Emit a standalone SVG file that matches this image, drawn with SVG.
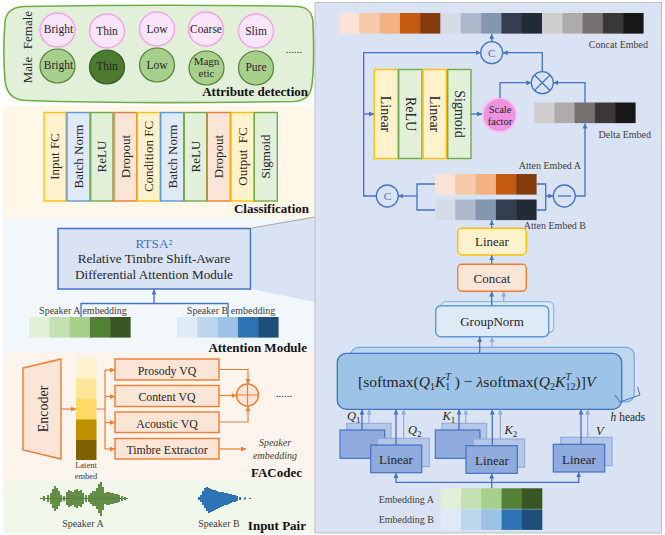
<svg xmlns="http://www.w3.org/2000/svg" width="665" height="535" viewBox="0 0 665 535">
<style>
text{font-family:"Liberation Serif","Times New Roman",serif;fill:#262626}
.t{text-anchor:middle}
.b{font-weight:bold;font-size:13px;fill:#111}
.s10{font-size:10px;fill:#404040}
.s13{font-size:13px}
.s14{font-size:14px}
.vq{font-size:11.800px}
.cl{font-size:11.500px}
.pink{fill:#fbe5fa;stroke:#f0a6e8;stroke-width:1.5}
.grn{fill:#a8d08d;stroke:#538135;stroke-width:1.2}
.y{fill:#fff2cc;stroke:#ffc000;stroke-width:1.4}
.g{fill:#e2efd9;stroke:#70ad47;stroke-width:1.4}
.o{fill:#fbe5d6;stroke:#ed7d31;stroke-width:1.4}
.bl{fill:#deeaf6;stroke:#5b9bd5;stroke-width:1.4}
.ln{fill:none;stroke:#4472c4;stroke-width:1.3}
.lt{fill:none;stroke:#8faadc;stroke-width:1.2}
.or{fill:none;stroke:#ed7d31;stroke-width:1.2}
.ab{marker-end:url(#ah)}
.al{marker-end:url(#ahl)}
.ao{marker-end:url(#aho)}
.fr{fill:#8faadc;stroke:#4472c4;stroke-width:1.2}
.bk{fill:#b4c7e7;stroke:#8faadc;stroke-width:1.1}
</style>
<defs>
<marker id="ah" markerUnits="userSpaceOnUse" markerWidth="6" markerHeight="6" refX="5" refY="2.500" orient="auto"><path d="M0 0L5 2.500L0 5Z" fill="#4472c4"/></marker>
<marker id="ahl" markerUnits="userSpaceOnUse" markerWidth="6" markerHeight="6" refX="5" refY="2.500" orient="auto"><path d="M0 0L5 2.500L0 5Z" fill="#8faadc"/></marker>
<marker id="aho" markerUnits="userSpaceOnUse" markerWidth="6" markerHeight="6" refX="5" refY="2.500" orient="auto"><path d="M0 0L5 2.500L0 5Z" fill="#ed7d31"/></marker>
<g id="stripA"><rect width="20.800" height="20.600" fill="#e2efd9"/><rect x="20.300" width="20.800" height="20.600" fill="#c5e0b3"/><rect x="40.600" width="20.800" height="20.600" fill="#a8d08d"/><rect x="60.900" width="20.800" height="20.600" fill="#538135"/><rect x="81.200" width="20.400" height="20.600" fill="#385723"/></g>
<g id="stripB"><rect width="20.800" height="20.600" fill="#deeaf6"/><rect x="20.300" width="20.800" height="20.600" fill="#bdd6ee"/><rect x="40.600" width="20.800" height="20.600" fill="#9cc2e5"/><rect x="60.900" width="20.800" height="20.600" fill="#2e74b5"/><rect x="81.200" width="20.400" height="20.600" fill="#1f4e79"/></g>
<g id="stripO"><rect width="20.800" height="20.600" fill="#fbe4d5"/><rect x="20.300" width="20.800" height="20.600" fill="#f7caac"/><rect x="40.600" width="20.800" height="20.600" fill="#f4b183"/><rect x="60.900" width="20.800" height="20.600" fill="#c55a11"/><rect x="81.200" width="20.400" height="20.600" fill="#843c0c"/></g>
<g id="stripS"><rect width="20.800" height="20.600" fill="#d6dce5"/><rect x="20.300" width="20.800" height="20.600" fill="#adb9ca"/><rect x="40.600" width="20.800" height="20.600" fill="#8497b0"/><rect x="60.900" width="20.800" height="20.600" fill="#333f50"/><rect x="81.200" width="20.400" height="20.600" fill="#222a35"/></g>
<g id="stripK"><rect width="20.800" height="20.600" fill="#d0cece"/><rect x="20.300" width="20.800" height="20.600" fill="#aeabab"/><rect x="40.600" width="20.800" height="20.600" fill="#767171"/><rect x="60.900" width="20.800" height="20.600" fill="#3b3838"/><rect x="81.200" width="20.400" height="20.600" fill="#171717"/></g>
</defs>

<!-- section backgrounds -->
<rect width="665" height="535" fill="#fff"/>
<rect x="3" y="106" width="312" height="112" fill="#fff8e9"/>
<rect x="3" y="218" width="312" height="134" fill="#f2f7fc"/>
<rect x="3" y="352" width="312" height="129" fill="#fdf4ee"/>
<rect x="3" y="481" width="312" height="52" fill="#f2f7ec"/>
<path d="M252 228L315 217V302L252 289Z" fill="#dae3f3"/>
<path d="M252 228L315 217" stroke="#a6a6a6" stroke-width="1" fill="none"/>
<rect x="315" y="2.500" width="346.500" height="530.500" fill="#dae3f3" stroke="#bfbfbf" stroke-width="1"/>

<!-- attribute detection -->
<g id="attribute-detection">
<path d="M24 6.500C120 5 230 5 298 6.500C308 7 313 14 313 24C314 50 314 70 312 84C311 96 305 101 294 101.500C200 103 100 103 26 100.500C12 100 6 92 5 80C3 55 4 35 5 22C6 12 12 7 24 6.500Z" fill="#e2efd9" stroke="#70ad47" stroke-width="1.600"/>
<text transform="translate(32,30) rotate(-90)" class="t s13">Female</text>
<text transform="translate(32,70) rotate(-90)" class="t s13">Male</text>
<text x="294" y="53" class="t" style="font-size:11px">......</text>
<text x="308" y="96" text-anchor="end" class="b">Attribute detection</text>
</g>
<g id="attr-f1"><ellipse class="pink" cx="57.500" cy="30" rx="17.500" ry="17"/><text x="58.500" y="33" class="t cl">Bright</text></g>
<g id="attr-f2"><ellipse class="pink" cx="107" cy="31" rx="17.500" ry="17"/><text x="107" y="35" class="t cl">Thin</text></g>
<g id="attr-f3"><ellipse class="pink" cx="157" cy="29" rx="17.500" ry="17"/><text x="157" y="33" class="t cl">Low</text></g>
<g id="attr-f4"><ellipse class="pink" cx="206" cy="29" rx="17.500" ry="17"/><text x="206" y="33" class="t cl">Coarse</text></g>
<g id="attr-f5"><ellipse class="pink" cx="256" cy="31" rx="17.500" ry="17"/><text x="256" y="35" class="t cl">Slim</text></g>
<g id="attr-m1"><ellipse class="grn" cx="57.500" cy="66" rx="17.500" ry="17"/><text x="58.500" y="69" class="t cl">Bright</text></g>
<g id="attr-m2"><ellipse cx="107" cy="67" rx="17.500" ry="17" fill="#4d7a30" stroke="#385723" stroke-width="1.200"/><text x="107" y="70" class="t cl">Thin</text></g>
<g id="attr-m3"><ellipse class="grn" cx="157" cy="65" rx="17.500" ry="17"/><text x="157" y="69" class="t cl">Low</text></g>
<g id="attr-m4"><ellipse class="grn" cx="206.500" cy="68" rx="17.500" ry="17"/><text class="t" style="font-size:11px"><tspan x="206.500" y="65">Magn</tspan><tspan x="206.500" y="77">etic</tspan></text></g>
<g id="attr-m5"><ellipse class="grn" cx="256" cy="68" rx="17.500" ry="17"/><text x="256" y="71" class="t cl">Pure</text></g>

<!-- classification head -->
<g id="cls-1"><rect class="y" x="44" y="112.500" width="22" height="88.500"/><text transform="translate(59,156.500) rotate(-90)" class="t s13">Input FC</text></g>
<g id="cls-2"><rect class="bl" x="67" y="112.500" width="23" height="88.500"/><text transform="translate(83,156.500) rotate(-90)" class="t s13">Batch Norm</text></g>
<g id="cls-3"><rect class="g" x="90.700" y="112.500" width="22.300" height="88.500"/><text transform="translate(106,156.500) rotate(-90)" class="t s13">ReLU</text></g>
<g id="cls-4"><rect class="o" x="114" y="112.500" width="22.700" height="88.500"/><text transform="translate(130,156.500) rotate(-90)" class="t s13">Dropout</text></g>
<g id="cls-5"><rect class="y" x="137.300" y="112.500" width="22.700" height="88.500"/><text transform="translate(153,156.500) rotate(-90)" class="t s13">Condition FC</text></g>
<g id="cls-6"><rect class="bl" x="160.700" y="112.500" width="23" height="88.500"/><text transform="translate(177,156.500) rotate(-90)" class="t s13">Batch Norm</text></g>
<g id="cls-7"><rect class="g" x="184.300" y="112.500" width="22.400" height="88.500"/><text transform="translate(200,156.500) rotate(-90)" class="t s13">ReLU</text></g>
<g id="cls-8"><rect class="o" x="207.300" y="112.500" width="23" height="88.500"/><text transform="translate(223,156.500) rotate(-90)" class="t s13">Dropout</text></g>
<g id="cls-9"><rect class="y" x="231" y="112.500" width="23" height="88.500"/><text transform="translate(247,156.500) rotate(-90)" class="t s13" xml:space="preserve">Output  FC</text></g>
<g id="cls-10"><rect class="g" x="254.300" y="112.500" width="23" height="88.500"/><text transform="translate(270,156.500) rotate(-90)" class="t s13">Sigmoid</text></g>
<text x="309" y="213" text-anchor="end" class="b">Classification</text>

<!-- attention module -->
<g id="rtsa">
<rect x="58" y="228.500" width="192.500" height="60.500" fill="#dae3f3" stroke="#4472c4" stroke-width="1.500"/>
<text x="154" y="248" class="t" style="font-size:13.200px;fill:#4472c4">RTSA²</text>
<text x="154" y="263" class="t" style="font-size:13.200px">Relative Timbre Shift-Aware</text>
<text x="154" y="279" class="t" style="font-size:13.200px">Differential Attention Module</text>
</g>
<g id="speaker-a-embedding"><use href="#stripA" x="29" y="317"/><text x="83" y="314" class="t s10">Speaker A embedding</text></g>
<g id="speaker-b-embedding"><use href="#stripB" x="177" y="317"/><text x="231" y="314" class="t s10">Speaker B embedding</text></g>
<text x="307" y="352" text-anchor="end" class="b">Attention Module</text>

<!-- FACodec -->
<g id="encoder"><path d="M23 368L61 359V459L23 450Z" class="o"/><text transform="translate(48,409) rotate(-90)" class="t s14">Encoder</text></g>
<g id="latent">
<rect x="76" y="358" width="20.500" height="21" fill="#fff2cc"/><rect x="76" y="378.500" width="20.500" height="21" fill="#ffe599"/><rect x="76" y="399" width="20.500" height="21" fill="#ffd966"/><rect x="76" y="419.500" width="20.500" height="21" fill="#bf9000"/><rect x="76" y="440" width="20.500" height="20" fill="#7f6000"/>
<text class="t" style="font-size:8.500px;fill:#404040"><tspan x="86" y="468">Latent</tspan><tspan x="86" y="479">embed</tspan></text>
</g>
<g id="prosody-vq"><rect class="o" x="115" y="359" width="104" height="21"/><text x="167" y="374.500" class="t vq">Prosody VQ</text></g>
<g id="content-vq"><rect class="o" x="115" y="385.500" width="104" height="21"/><text x="167" y="401" class="t vq">Content VQ</text></g>
<g id="acoustic-vq"><rect class="o" x="115" y="412" width="104" height="20.500"/><text x="167" y="427.500" class="t vq">Acoustic VQ</text></g>
<g id="timbre-extractor"><rect class="o" x="115" y="438.500" width="104" height="20.500"/><text x="167" y="454" class="t vq">Timbre Extractor</text></g>
<g id="sum"><circle cx="247.500" cy="395" r="11" class="o"/><path d="M236.500 395H258.500M247.500 384V406" class="or"/></g>
<text x="284" y="397" class="t" style="font-size:11px">......</text>
<text class="t" style="font-size:10px;font-style:italic;fill:#404040"><tspan x="275" y="446">Speaker</tspan><tspan x="275" y="459">embedding</tspan></text>
<text x="302" y="477" text-anchor="end" class="b">FACodec</text>

<!-- input pair -->
<g id="speaker-a">
<path d="M40 498.500H128" stroke="#538135" stroke-width="1" fill="none"/>
<path d="M44 496V501M48 495V502M51 493V504M53 489V508M55 486V511M57 488V509M59 491V506M61 495V502M64 496V501M67 492V505M69 490V507M71 491V506M73 492V505M75 490V507M77 489V508M79 491V506M81 490V507M83 493V504M86 495V502M89 495V502M91 493V504M93 491V506M95 491V506M97 488V509M99 484V513M101 482V516M103 487V510M105 493V504M107 492V505M109 492V505M111 493V504M113 493V504M115 494V503M117 494V503M119 495V502M122 496V501M125 497V500" stroke="#548235" stroke-width="1.800" fill="none"/>
<text x="83" y="527" class="t s10">Speaker A</text>
</g>
<g id="speaker-b">
<path d="M199 497V500M201 495V502M203 491V505M205 488V508M207 487V511M209 488V513M211 489V512M213 490V511M215 490V510M217 491V509M219 492V508M221 492V507M223 492V506M225 493V505M227 493V505M229 494V504M231 494V503M233 495V502M235 495V502M237 496V501M240 497V500M245 497.500V499.500M250 498V499" stroke="#2e74b5" stroke-width="2" fill="none"/>
<text x="219" y="527" class="t s10">Speaker B</text>
</g>
<text x="306" y="530" text-anchor="end" class="b">Input Pair</text>

<!-- main network: embedding strips -->
<g id="concat-embed">
<use href="#stripO" x="339" y="13"/><use href="#stripS" x="440.500" y="13"/><use href="#stripK" x="542" y="13"/>
<text x="648" y="48" text-anchor="end" class="s10">Concat Embed</text>
</g>
<g id="delta-embed"><use href="#stripK" x="534" y="102.500"/><text x="651" y="138" text-anchor="end" class="s10">Delta Embed</text></g>
<g id="atten-a"><use href="#stripO" x="435" y="174"/><text x="581" y="169" text-anchor="end" class="s10">Atten Embed A</text></g>
<g id="atten-b"><use href="#stripS" x="435" y="199.500"/><text x="586" y="229" text-anchor="end" class="s10">Atten Embed B</text></g>

<!-- gating block -->
<g id="gate-linear-1"><rect class="y" x="374.300" y="69.500" width="23.400" height="89"/><text transform="translate(381,114) rotate(90)" class="t s14">Linear</text></g>
<g id="gate-relu"><rect class="g" x="398.700" y="69.500" width="23.300" height="89"/><text transform="translate(405.500,114) rotate(90)" class="t s14">ReLU</text></g>
<g id="gate-linear-2"><rect class="y" x="423" y="69.500" width="23.300" height="89"/><text transform="translate(430,114) rotate(90)" class="t s14">Linear</text></g>
<g id="gate-sigmoid"><rect class="g" x="447.700" y="69.500" width="23.300" height="89"/><text transform="translate(454.500,114) rotate(90)" class="t s14">Sigmoid</text></g>
<g id="scale-factor"><circle cx="499.500" cy="115" r="17" fill="#ee92e2" stroke="#f6c4f0" stroke-width="2"/><text class="t" style="font-size:10.500px"><tspan x="500" y="113">Scale</tspan><tspan x="500" y="125">factor</tspan></text></g>

<!-- operators -->
<g id="concat-top"><circle cx="491.700" cy="52.700" r="11" fill="none" stroke="#4472c4" stroke-width="1.300"/><text x="491.700" y="57" class="t" style="font-size:11px;fill:#4472c4">C</text></g>
<g id="concat-low"><circle cx="387.300" cy="196" r="11" fill="none" stroke="#4472c4" stroke-width="1.300"/><text x="387.300" y="200" class="t" style="font-size:11px;fill:#4472c4">C</text></g>
<g id="multiply"><circle cx="542.300" cy="82.700" r="11" fill="none" stroke="#4472c4" stroke-width="1.300"/><path d="M534.500 75L550 90.500M550 75L534.500 90.500" class="ln"/></g>
<g id="subtract"><circle cx="564.300" cy="196" r="11" fill="none" stroke="#4472c4" stroke-width="1.300"/><path d="M558 196H571" class="ln"/></g>

<!-- attention stack -->
<g id="linear-out"><rect class="y" x="457.700" y="228.300" width="68.600" height="26.700" rx="4" style="stroke-width:1.500"/><text x="492" y="246" class="t s13">Linear</text></g>
<g id="concat"><rect class="o" x="457.700" y="264.300" width="68.600" height="27" rx="4"/><text x="492" y="283" class="t s13">Concat</text></g>
<g id="groupnorm"><rect x="440.700" y="301.700" width="113" height="31" rx="5" class="bl" style="stroke:#8db8e3;stroke-width:1.200"/><rect x="435.700" y="305.700" width="113" height="31" rx="5" class="bl"/><text x="492" y="326" class="t s13">GroupNorm</text></g>
<g id="differential-attention">
<rect x="350.700" y="347.300" width="283.600" height="54.500" rx="8" fill="#bdd7ee" stroke="#7ba7dd" stroke-width="1.200"/>
<rect x="337.300" y="353.300" width="284.400" height="56" rx="9" fill="#9dc3e6" stroke="#4472c4" stroke-width="1.300"/>
<text x="358" y="387" style="font-size:15.600px">[softmax(<tspan font-style="italic">Q</tspan><tspan dy="3" font-size="10">1</tspan><tspan dy="-3" font-style="italic">K</tspan><tspan dy="3" font-size="10">1</tspan><tspan dy="-10" dx="-5" font-size="10" font-style="italic">T</tspan><tspan dy="7"> ) − </tspan><tspan font-style="italic">λ</tspan>softmax(<tspan font-style="italic">Q</tspan><tspan dy="3" font-size="10">2</tspan><tspan dy="-3" font-style="italic">K</tspan><tspan dy="3" font-size="10">12</tspan><tspan dy="-10" dx="-10" font-size="10" font-style="italic">T</tspan><tspan dy="7" dx="4.500">)]</tspan><tspan font-style="italic">V</tspan></text>
<path d="M615 395L620 402L640 395L637.500 387" fill="none" stroke="#4472c4" stroke-width="1"/>
<text x="610.500" y="421" style="font-size:11.500px"><tspan font-style="italic">h</tspan> heads</text>
</g>

<!-- projection heads -->
<g id="linear-q1"><rect class="bk" x="346.700" y="423.300" width="44.300" height="27"/><rect class="fr" x="340" y="430" width="44.700" height="28.300"/></g>
<g id="linear-q2"><rect class="bk" x="377.300" y="438.300" width="52" height="28.400"/><rect class="fr" x="370.700" y="445" width="51" height="27.700"/><text x="396" y="464" class="t s13">Linear</text></g>
<g id="linear-k1"><rect class="bk" x="442" y="423.300" width="44.700" height="27"/><rect class="fr" x="435.300" y="430" width="44.700" height="28.300"/></g>
<g id="linear-k2"><rect class="bk" x="473.300" y="439" width="51.400" height="28.300"/><rect class="fr" x="466" y="445.700" width="51.300" height="27.600"/><text x="492" y="465" class="t s13">Linear</text></g>
<g id="linear-v"><rect class="bk" x="560.700" y="437.300" width="51.300" height="28.400"/><rect class="fr" x="553.300" y="444.300" width="51.400" height="27.700"/><text x="579" y="464" class="t s13">Linear</text></g>
<text x="347" y="420" style="font-size:12.500px;font-style:italic">Q<tspan dy="3" font-size="9" font-style="normal">1</tspan></text>
<text x="408" y="434" style="font-size:12.500px;font-style:italic">Q<tspan dy="3" font-size="9" font-style="normal">2</tspan></text>
<text x="442.500" y="420" style="font-size:12.500px;font-style:italic">K<tspan dy="3" font-size="9" font-style="normal">1</tspan></text>
<text x="504.500" y="434" style="font-size:12.500px;font-style:italic">K<tspan dy="3" font-size="9" font-style="normal">2</tspan></text>
<text x="596" y="435" style="font-size:12.500px;font-style:italic">V</text>

<g id="input-embeddings">
<use href="#stripA" x="440.700" y="488.300"/><use href="#stripB" x="440.700" y="509.300"/>
<text x="434" y="502.500" text-anchor="end" class="s10">Embedding A</text>
<text x="434" y="522.500" text-anchor="end" class="s10">Embedding B</text>
</g>

<!-- connectors -->
<g id="connectors">
<path class="ln" d="M81 317V303.500H228V317"/>
<path class="ln ab" d="M154 303.500V289.500"/>
<path class="or ao" d="M61 409H76"/>
<path class="or" d="M96.500 409H105M105 370V449"/>
<path class="or ao" d="M105 370H115"/>
<path class="or ao" d="M105 396.500H115"/>
<path class="or ao" d="M105 422.500H115"/>
<path class="or ao" d="M105 449H115"/>
<path class="or ao" d="M219 369.500H248V384"/>
<path class="or ao" d="M219 395.500H236.500"/>
<path class="or ao" d="M219 422H248V406"/>
<path class="or ao" d="M219 449H246"/>
<path class="ln ab" d="M491.700 41.700V33.800"/>
<path class="ln ab" d="M376.300 196H363.700V52.700H480.700"/>
<path class="ln ab" d="M363.700 114H374"/>
<path class="ln ab" d="M471 114H482"/>
<path class="ln ab" d="M500 98V82.700H531.300"/>
<path class="ln ab" d="M542.300 71.700V52.700H502.700"/>
<path class="ln ab" d="M585 102.700V82.700H553.300"/>
<path class="ln ab" d="M575.300 196H585V123.500"/>
<path class="ln" d="M536.700 184H545.700V210H536.700"/>
<path class="ln ab" d="M545.700 196H553.300"/>
<path class="ln" d="M435 184H417V210H435"/>
<path class="ln ab" d="M417 196H398.300"/>
<path class="ln ab" d="M491.700 228V220.300"/>
<path class="ln ab" d="M491.700 264V255.300"/>
<path class="ln ab" d="M491.700 305.500V291.500"/>
<path class="lt al" d="M503.700 301.500V291.500"/>
<path class="ln ab" d="M479.700 353V337"/>
<path class="lt al" d="M492 347V337"/>
<path class="ln ab" d="M362 430V409.500"/>
<path class="lt al" d="M369 423V409.500"/>
<path class="ln ab" d="M396 445V409.500"/>
<path class="lt al" d="M403.700 438V409.500"/>
<path class="ln ab" d="M459 430V409.500"/>
<path class="lt al" d="M465.700 423V409.500"/>
<path class="ln ab" d="M492.300 445.500V409.500"/>
<path class="lt al" d="M500.300 439V409.500"/>
<path class="ln ab" d="M581 444V409.500"/>
<path class="lt al" d="M587.700 437V409.500"/>
<path class="ln ab" d="M491.700 488.300V473.600"/>
<path class="ln ab" d="M491.700 482.300H396V472.900"/>
<path class="ln ab" d="M491.700 482.300H578.700V472.300"/>
</g>
</svg>
